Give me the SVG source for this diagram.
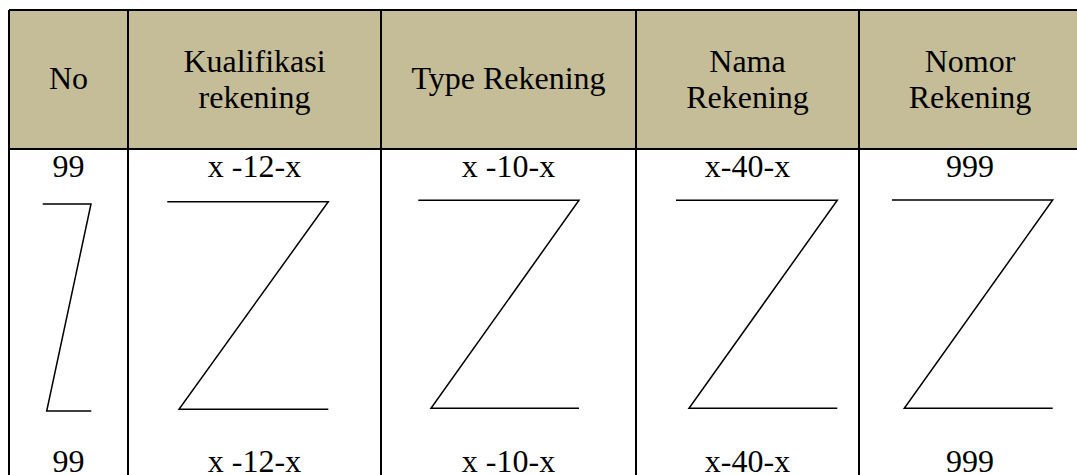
<svg xmlns="http://www.w3.org/2000/svg" width="1077" height="475" viewBox="0 0 1077 475">
<style>
.t{font-family:"Liberation Serif","Times New Roman",serif;font-size:32px;fill:#000;text-anchor:middle}
.b{stroke:#000;stroke-width:2;fill:none}
.z{stroke:#000;stroke-width:1.5;fill:none;stroke-linejoin:miter}
</style>
<rect x="0" y="0" width="1077" height="475" fill="#fff"/>
<g id="table">
<rect x="9" y="10" width="1072" height="139" fill="#C4BD97"/>
<path class="b" d="M9,10H1081M9,149H1081M9,10V475M128,10V475M381,10V475M636,10V475M859,10V475M1081,10V475"/>
</g>
<g id="col-no">
<text class="t" x="68.5" y="89">No</text>
<text class="t" x="68.5" y="177">99</text>
<path class="z" d="M42.7,204H91L46.7,411H91.3"/>
<text class="t" x="68.5" y="472">99</text>
</g>
<g id="col-kualifikasi">
<text class="t" x="254.5" y="72">Kualifikasi</text>
<text class="t" x="254.5" y="108">rekening</text>
<text class="t" x="254.5" y="177">x -12-x</text>
<path class="z" d="M167.3,201.7H328.3L179,409.3H328.3"/>
<text class="t" x="254.5" y="472">x -12-x</text>
</g>
<g id="col-type">
<text class="t" x="508.5" y="89">Type Rekening</text>
<text class="t" x="508.5" y="177">x -10-x</text>
<path class="z" d="M418.3,200.3H579L431,408.3H579"/>
<text class="t" x="508.5" y="472">x -10-x</text>
</g>
<g id="col-nama">
<text class="t" x="747.5" y="72">Nama</text>
<text class="t" x="747.5" y="108">Rekening</text>
<text class="t" x="747.5" y="177">x-40-x</text>
<path class="z" d="M676,200.3H837.3L689,408.3H837.3"/>
<text class="t" x="747.5" y="472">x-40-x</text>
</g>
<g id="col-nomor">
<text class="t" x="970" y="72">Nomor</text>
<text class="t" x="970" y="108">Rekening</text>
<text class="t" x="970" y="177">999</text>
<path class="z" d="M892,200H1052.7L904.3,408.3H1052.7"/>
<text class="t" x="970" y="472">999</text>
</g>
</svg>
